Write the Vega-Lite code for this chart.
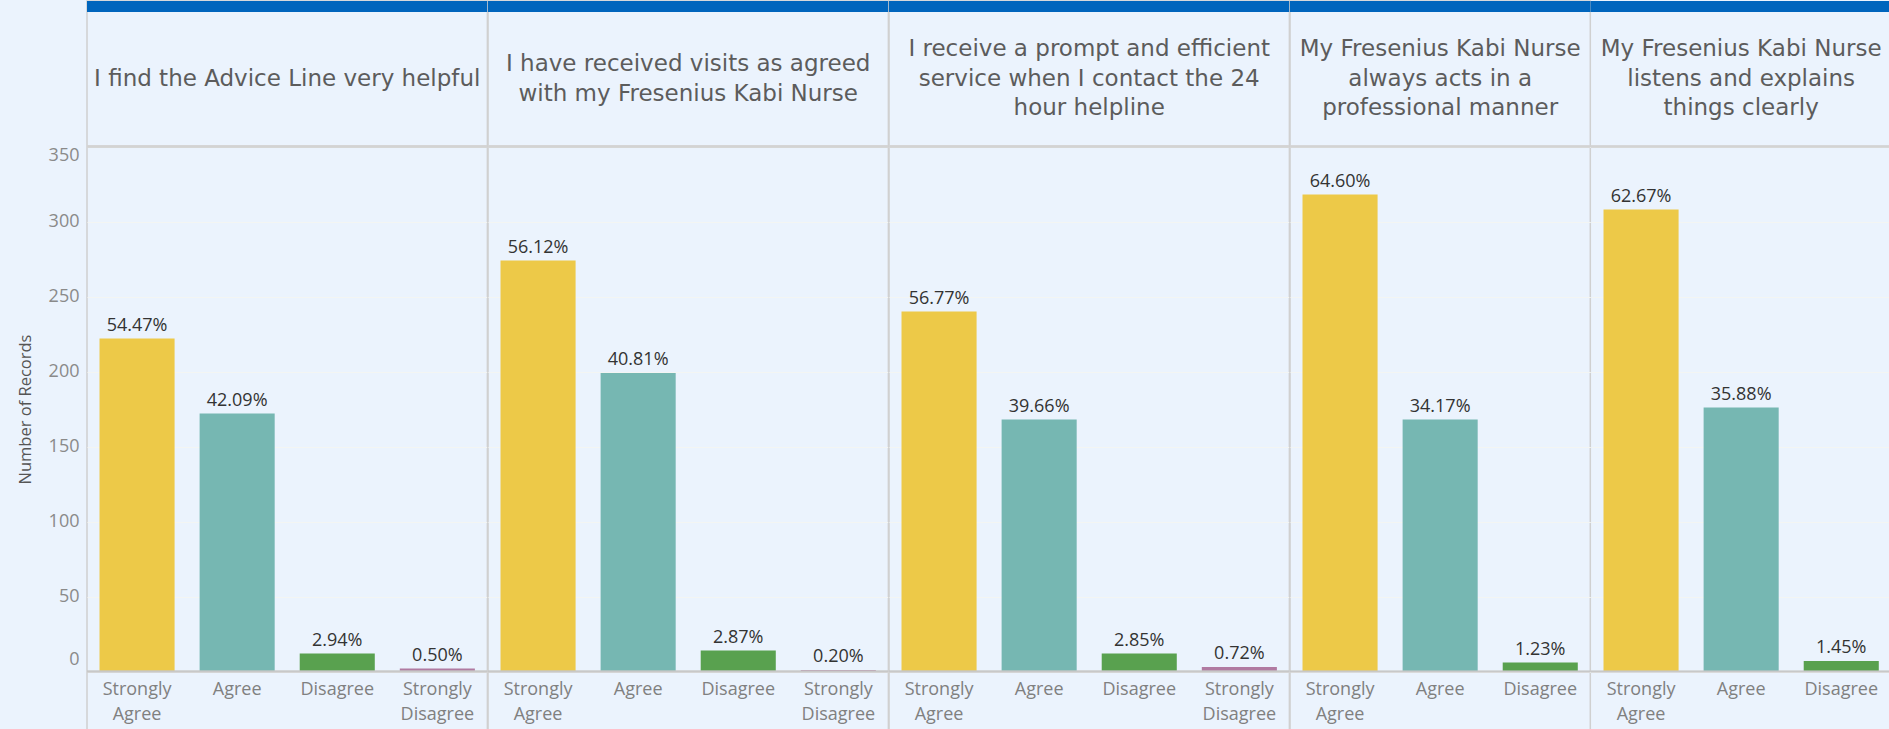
{
  "$schema": "https://vega.github.io/schema/vega-lite/v6.json",
  "background": "#EBF3FD",
  "padding": {"left": 16, "top": 0, "right": 0, "bottom": 0},
  "spacing": 0,
  "bounds": "flush",
  "data": {"values": [
    {"question": "Q1", "header": "I find the Advice Line very helpful", "response": "Strongly Agree", "count": 222, "pct": "54.47%"},
    {"question": "Q1", "header": "I find the Advice Line very helpful", "response": "Agree", "count": 172, "pct": "42.09%"},
    {"question": "Q1", "header": "I find the Advice Line very helpful", "response": "Disagree", "count": 12, "pct": "2.94%"},
    {"question": "Q1", "header": "I find the Advice Line very helpful", "response": "Strongly Disagree", "count": 2, "pct": "0.50%"},
    {"question": "Q2", "header": "I have received visits as agreed|with my Fresenius Kabi Nurse", "response": "Strongly Agree", "count": 274, "pct": "56.12%"},
    {"question": "Q2", "header": "I have received visits as agreed|with my Fresenius Kabi Nurse", "response": "Agree", "count": 199, "pct": "40.81%"},
    {"question": "Q2", "header": "I have received visits as agreed|with my Fresenius Kabi Nurse", "response": "Disagree", "count": 14, "pct": "2.87%"},
    {"question": "Q2", "header": "I have received visits as agreed|with my Fresenius Kabi Nurse", "response": "Strongly Disagree", "count": 1, "pct": "0.20%"},
    {"question": "Q3", "header": "I receive a prompt and efficient|service when I contact the 24|hour helpline", "response": "Strongly Agree", "count": 240, "pct": "56.77%"},
    {"question": "Q3", "header": "I receive a prompt and efficient|service when I contact the 24|hour helpline", "response": "Agree", "count": 168, "pct": "39.66%"},
    {"question": "Q3", "header": "I receive a prompt and efficient|service when I contact the 24|hour helpline", "response": "Disagree", "count": 12, "pct": "2.85%"},
    {"question": "Q3", "header": "I receive a prompt and efficient|service when I contact the 24|hour helpline", "response": "Strongly Disagree", "count": 3, "pct": "0.72%"},
    {"question": "Q4", "header": "My Fresenius Kabi Nurse|always acts in a|professional manner", "response": "Strongly Agree", "count": 318, "pct": "64.60%"},
    {"question": "Q4", "header": "My Fresenius Kabi Nurse|always acts in a|professional manner", "response": "Agree", "count": 168, "pct": "34.17%"},
    {"question": "Q4", "header": "My Fresenius Kabi Nurse|always acts in a|professional manner", "response": "Disagree", "count": 6, "pct": "1.23%"},
    {"question": "Q5", "header": "My Fresenius Kabi Nurse|listens and explains|things clearly", "response": "Strongly Agree", "count": 308, "pct": "62.67%"},
    {"question": "Q5", "header": "My Fresenius Kabi Nurse|listens and explains|things clearly", "response": "Agree", "count": 176, "pct": "35.88%"},
    {"question": "Q5", "header": "My Fresenius Kabi Nurse|listens and explains|things clearly", "response": "Disagree", "count": 7, "pct": "1.45%"}
  ]},
  "hconcat": [
    {
      "transform": [{"filter": {"field": "question", "equal": "Q1"}}],
      "width": {"step": 100.1}, "height": 729,
      "layer": [
        {"mark": {"type": "rect", "color": "#0065BD"}, "encoding": {"y": {"datum": 439.67, "type": "quantitative", "title": "Number of Records"}, "y2": {"datum": 447}}},
        {"mark": {"type": "rule", "color": "#D3D3D3", "strokeWidth": 2}, "encoding": {"y": {"datum": 350, "type": "quantitative", "title": "Number of Records"}}},
        {"transform": [{"aggregate": [], "groupby": ["header"]}], "mark": {"type": "text", "font": "DejaVu Sans", "fontSize": 23, "color": "#5c5c5c", "lineBreak": "|", "lineHeight": 29.5, "baseline": "middle", "align": "center"}, "encoding": {"y": {"datum": 395, "type": "quantitative", "title": "Number of Records"}, "text": {"field": "header", "type": "nominal"}}},
        {"mark": "bar", "encoding": {
          "x": {"field": "response", "type": "nominal", "sort": ["Strongly Agree", "Agree", "Disagree", "Strongly Disagree"], "scale": {"paddingInner": 0.25, "paddingOuter": 0.125}, "axis": null},
          "y": {"field": "count", "type": "quantitative", "title": "Number of Records", "scale": {"domain": [-39, 447], "nice": false, "zero": false},
                "axis": {"values": [0, 50, 100, 150, 200, 250, 300, 350], "titleY": 408,
                         "labelOffset": {"condition": {"test": "datum.value === 0", "value": -12}, "value": 0},
                         "labelBaseline": {"condition": {"test": "datum.value === 350", "value": "top"}, "value": "middle"}}},
          "color": {"field": "response", "type": "nominal", "legend": null, "scale": {"domain": ["Strongly Agree", "Agree", "Disagree", "Strongly Disagree"], "range": ["#EDC948", "#76B7B2", "#59A14F", "#B07AA1"]}}}},
        {"mark": {"type": "text", "font": "Open Sans", "fontSize": 18, "color": "#333333", "baseline": "alphabetic", "dy": -8}, "encoding": {"x": {"field": "response", "type": "nominal", "sort": ["Strongly Agree", "Agree", "Disagree", "Strongly Disagree"], "axis": null}, "y": {"field": "count", "type": "quantitative", "title": "Number of Records"}, "text": {"field": "pct", "type": "nominal"}}},
        {"mark": {"type": "text", "font": "Open Sans", "fontSize": 18, "color": "#808080", "baseline": "top", "lineBreak": " ", "lineHeight": 25.5}, "encoding": {"x": {"field": "response", "type": "nominal", "sort": ["Strongly Agree", "Agree", "Disagree", "Strongly Disagree"], "axis": null}, "y": {"datum": -6.3, "type": "quantitative", "title": "Number of Records"}, "text": {"field": "response", "type": "nominal"}}},
        {"mark": {"type": "rule", "color": "#C8C8C8", "strokeWidth": 1.5}, "encoding": {"y": {"datum": 0, "type": "quantitative", "title": "Number of Records"}}}
      ]
    },
    {
      "transform": [{"filter": {"field": "question", "equal": "Q2"}}],
      "width": {"step": 100.1}, "height": 729,
      "layer": [
        {"mark": {"type": "rect", "color": "#0065BD"}, "encoding": {"y": {"datum": 439.67, "type": "quantitative"}, "y2": {"datum": 447}}},
        {"mark": {"type": "rule", "color": "#D3D3D3", "strokeWidth": 2}, "encoding": {"y": {"datum": 350, "type": "quantitative"}}},
        {"transform": [{"aggregate": [], "groupby": ["header"]}], "mark": {"type": "text", "font": "DejaVu Sans", "fontSize": 23, "color": "#5c5c5c", "lineBreak": "|", "lineHeight": 29.5, "baseline": "middle", "align": "center"}, "encoding": {"y": {"datum": 404.83, "type": "quantitative"}, "text": {"field": "header", "type": "nominal"}}},
        {"mark": "bar", "encoding": {
          "x": {"field": "response", "type": "nominal", "sort": ["Strongly Agree", "Agree", "Disagree", "Strongly Disagree"], "scale": {"paddingInner": 0.25, "paddingOuter": 0.125}, "axis": null},
          "y": {"field": "count", "type": "quantitative", "scale": {"domain": [-39, 447], "nice": false, "zero": false},
                "axis": {"values": [0, 50, 100, 150, 200, 250, 300, 350], "labels": false, "title": null}},
          "color": {"field": "response", "type": "nominal", "legend": null, "scale": {"domain": ["Strongly Agree", "Agree", "Disagree", "Strongly Disagree"], "range": ["#EDC948", "#76B7B2", "#59A14F", "#B07AA1"]}}}},
        {"mark": {"type": "text", "font": "Open Sans", "fontSize": 18, "color": "#333333", "baseline": "alphabetic", "dy": -8}, "encoding": {"x": {"field": "response", "type": "nominal", "sort": ["Strongly Agree", "Agree", "Disagree", "Strongly Disagree"], "axis": null}, "y": {"field": "count", "type": "quantitative"}, "text": {"field": "pct", "type": "nominal"}}},
        {"mark": {"type": "text", "font": "Open Sans", "fontSize": 18, "color": "#808080", "baseline": "top", "lineBreak": " ", "lineHeight": 25.5}, "encoding": {"x": {"field": "response", "type": "nominal", "sort": ["Strongly Agree", "Agree", "Disagree", "Strongly Disagree"], "axis": null}, "y": {"datum": -6.3, "type": "quantitative"}, "text": {"field": "response", "type": "nominal"}}},
        {"mark": {"type": "rule", "color": "#C8C8C8", "strokeWidth": 1.5}, "encoding": {"y": {"datum": 0, "type": "quantitative"}}}
      ]
    },
    {
      "transform": [{"filter": {"field": "question", "equal": "Q3"}}],
      "width": {"step": 100.1}, "height": 729,
      "layer": [
        {"mark": {"type": "rect", "color": "#0065BD"}, "encoding": {"y": {"datum": 439.67, "type": "quantitative"}, "y2": {"datum": 447}}},
        {"mark": {"type": "rule", "color": "#D3D3D3", "strokeWidth": 2}, "encoding": {"y": {"datum": 350, "type": "quantitative"}}},
        {"transform": [{"aggregate": [], "groupby": ["header"]}], "mark": {"type": "text", "font": "DejaVu Sans", "fontSize": 23, "color": "#5c5c5c", "lineBreak": "|", "lineHeight": 29.5, "baseline": "middle", "align": "center"}, "encoding": {"y": {"datum": 414.67, "type": "quantitative"}, "text": {"field": "header", "type": "nominal"}}},
        {"mark": "bar", "encoding": {
          "x": {"field": "response", "type": "nominal", "sort": ["Strongly Agree", "Agree", "Disagree", "Strongly Disagree"], "scale": {"paddingInner": 0.25, "paddingOuter": 0.125}, "axis": null},
          "y": {"field": "count", "type": "quantitative", "scale": {"domain": [-39, 447], "nice": false, "zero": false},
                "axis": {"values": [0, 50, 100, 150, 200, 250, 300, 350], "labels": false, "title": null}},
          "color": {"field": "response", "type": "nominal", "legend": null, "scale": {"domain": ["Strongly Agree", "Agree", "Disagree", "Strongly Disagree"], "range": ["#EDC948", "#76B7B2", "#59A14F", "#B07AA1"]}}}},
        {"mark": {"type": "text", "font": "Open Sans", "fontSize": 18, "color": "#333333", "baseline": "alphabetic", "dy": -8}, "encoding": {"x": {"field": "response", "type": "nominal", "sort": ["Strongly Agree", "Agree", "Disagree", "Strongly Disagree"], "axis": null}, "y": {"field": "count", "type": "quantitative"}, "text": {"field": "pct", "type": "nominal"}}},
        {"mark": {"type": "text", "font": "Open Sans", "fontSize": 18, "color": "#808080", "baseline": "top", "lineBreak": " ", "lineHeight": 25.5}, "encoding": {"x": {"field": "response", "type": "nominal", "sort": ["Strongly Agree", "Agree", "Disagree", "Strongly Disagree"], "axis": null}, "y": {"datum": -6.3, "type": "quantitative"}, "text": {"field": "response", "type": "nominal"}}},
        {"mark": {"type": "rule", "color": "#C8C8C8", "strokeWidth": 1.5}, "encoding": {"y": {"datum": 0, "type": "quantitative"}}}
      ]
    },
    {
      "transform": [{"filter": {"field": "question", "equal": "Q4"}}],
      "width": {"step": 100.1}, "height": 729,
      "layer": [
        {"mark": {"type": "rect", "color": "#0065BD"}, "encoding": {"y": {"datum": 439.67, "type": "quantitative"}, "y2": {"datum": 447}}},
        {"mark": {"type": "rule", "color": "#D3D3D3", "strokeWidth": 2}, "encoding": {"y": {"datum": 350, "type": "quantitative"}}},
        {"transform": [{"aggregate": [], "groupby": ["header"]}], "mark": {"type": "text", "font": "DejaVu Sans", "fontSize": 23, "color": "#5c5c5c", "lineBreak": "|", "lineHeight": 29.5, "baseline": "middle", "align": "center"}, "encoding": {"y": {"datum": 414.67, "type": "quantitative"}, "text": {"field": "header", "type": "nominal"}}},
        {"mark": "bar", "encoding": {
          "x": {"field": "response", "type": "nominal", "sort": ["Strongly Agree", "Agree", "Disagree", "Strongly Disagree"], "scale": {"paddingInner": 0.25, "paddingOuter": 0.125}, "axis": null},
          "y": {"field": "count", "type": "quantitative", "scale": {"domain": [-39, 447], "nice": false, "zero": false},
                "axis": {"values": [0, 50, 100, 150, 200, 250, 300, 350], "labels": false, "title": null}},
          "color": {"field": "response", "type": "nominal", "legend": null, "scale": {"domain": ["Strongly Agree", "Agree", "Disagree", "Strongly Disagree"], "range": ["#EDC948", "#76B7B2", "#59A14F", "#B07AA1"]}}}},
        {"mark": {"type": "text", "font": "Open Sans", "fontSize": 18, "color": "#333333", "baseline": "alphabetic", "dy": -8}, "encoding": {"x": {"field": "response", "type": "nominal", "sort": ["Strongly Agree", "Agree", "Disagree", "Strongly Disagree"], "axis": null}, "y": {"field": "count", "type": "quantitative"}, "text": {"field": "pct", "type": "nominal"}}},
        {"mark": {"type": "text", "font": "Open Sans", "fontSize": 18, "color": "#808080", "baseline": "top", "lineBreak": " ", "lineHeight": 25.5}, "encoding": {"x": {"field": "response", "type": "nominal", "sort": ["Strongly Agree", "Agree", "Disagree", "Strongly Disagree"], "axis": null}, "y": {"datum": -6.3, "type": "quantitative"}, "text": {"field": "response", "type": "nominal"}}},
        {"mark": {"type": "rule", "color": "#C8C8C8", "strokeWidth": 1.5}, "encoding": {"y": {"datum": 0, "type": "quantitative"}}}
      ]
    },
    {
      "transform": [{"filter": {"field": "question", "equal": "Q5"}}],
      "width": {"step": 100.1}, "height": 729,
      "view": {"stroke": null},
      "layer": [
        {"mark": {"type": "rect", "color": "#0065BD"}, "encoding": {"y": {"datum": 439.67, "type": "quantitative"}, "y2": {"datum": 447}}},
        {"mark": {"type": "rule", "color": "#D3D3D3", "strokeWidth": 2}, "encoding": {"y": {"datum": 350, "type": "quantitative"}}},
        {"transform": [{"aggregate": [], "groupby": ["header"]}], "mark": {"type": "text", "font": "DejaVu Sans", "fontSize": 23, "color": "#5c5c5c", "lineBreak": "|", "lineHeight": 29.5, "baseline": "middle", "align": "center"}, "encoding": {"y": {"datum": 414.67, "type": "quantitative"}, "text": {"field": "header", "type": "nominal"}}},
        {"mark": "bar", "encoding": {
          "x": {"field": "response", "type": "nominal", "sort": ["Strongly Agree", "Agree", "Disagree", "Strongly Disagree"], "scale": {"paddingInner": 0.25, "paddingOuter": 0.125}, "axis": null},
          "y": {"field": "count", "type": "quantitative", "scale": {"domain": [-39, 447], "nice": false, "zero": false},
                "axis": {"values": [0, 50, 100, 150, 200, 250, 300, 350], "labels": false, "title": null}},
          "color": {"field": "response", "type": "nominal", "legend": null, "scale": {"domain": ["Strongly Agree", "Agree", "Disagree", "Strongly Disagree"], "range": ["#EDC948", "#76B7B2", "#59A14F", "#B07AA1"]}}}},
        {"mark": {"type": "text", "font": "Open Sans", "fontSize": 18, "color": "#333333", "baseline": "alphabetic", "dy": -8}, "encoding": {"x": {"field": "response", "type": "nominal", "sort": ["Strongly Agree", "Agree", "Disagree", "Strongly Disagree"], "axis": null}, "y": {"field": "count", "type": "quantitative"}, "text": {"field": "pct", "type": "nominal"}}},
        {"mark": {"type": "text", "font": "Open Sans", "fontSize": 18, "color": "#808080", "baseline": "top", "lineBreak": " ", "lineHeight": 25.5}, "encoding": {"x": {"field": "response", "type": "nominal", "sort": ["Strongly Agree", "Agree", "Disagree", "Strongly Disagree"], "axis": null}, "y": {"datum": -6.3, "type": "quantitative"}, "text": {"field": "response", "type": "nominal"}}},
        {"mark": {"type": "rule", "color": "#C8C8C8", "strokeWidth": 1.5}, "encoding": {"y": {"datum": 0, "type": "quantitative"}}}
      ]
    }
  ],
  "config": {
    "view": {"stroke": "#D0D0D0", "strokeWidth": 1.5},
    "axisY": {
      "grid": true, "gridColor": "#F3F5F3", "gridWidth": 1,
      "domain": false, "ticks": false,
      "labelFont": "Open Sans", "labelFontSize": 18, "labelColor": "#8a8a8a", "labelPadding": 8,
      "titleFont": "Open Sans", "titleFontSize": 16.5, "titleFontWeight": "normal", "titleColor": "#555555", "titlePadding": 15
    }
  }
}
